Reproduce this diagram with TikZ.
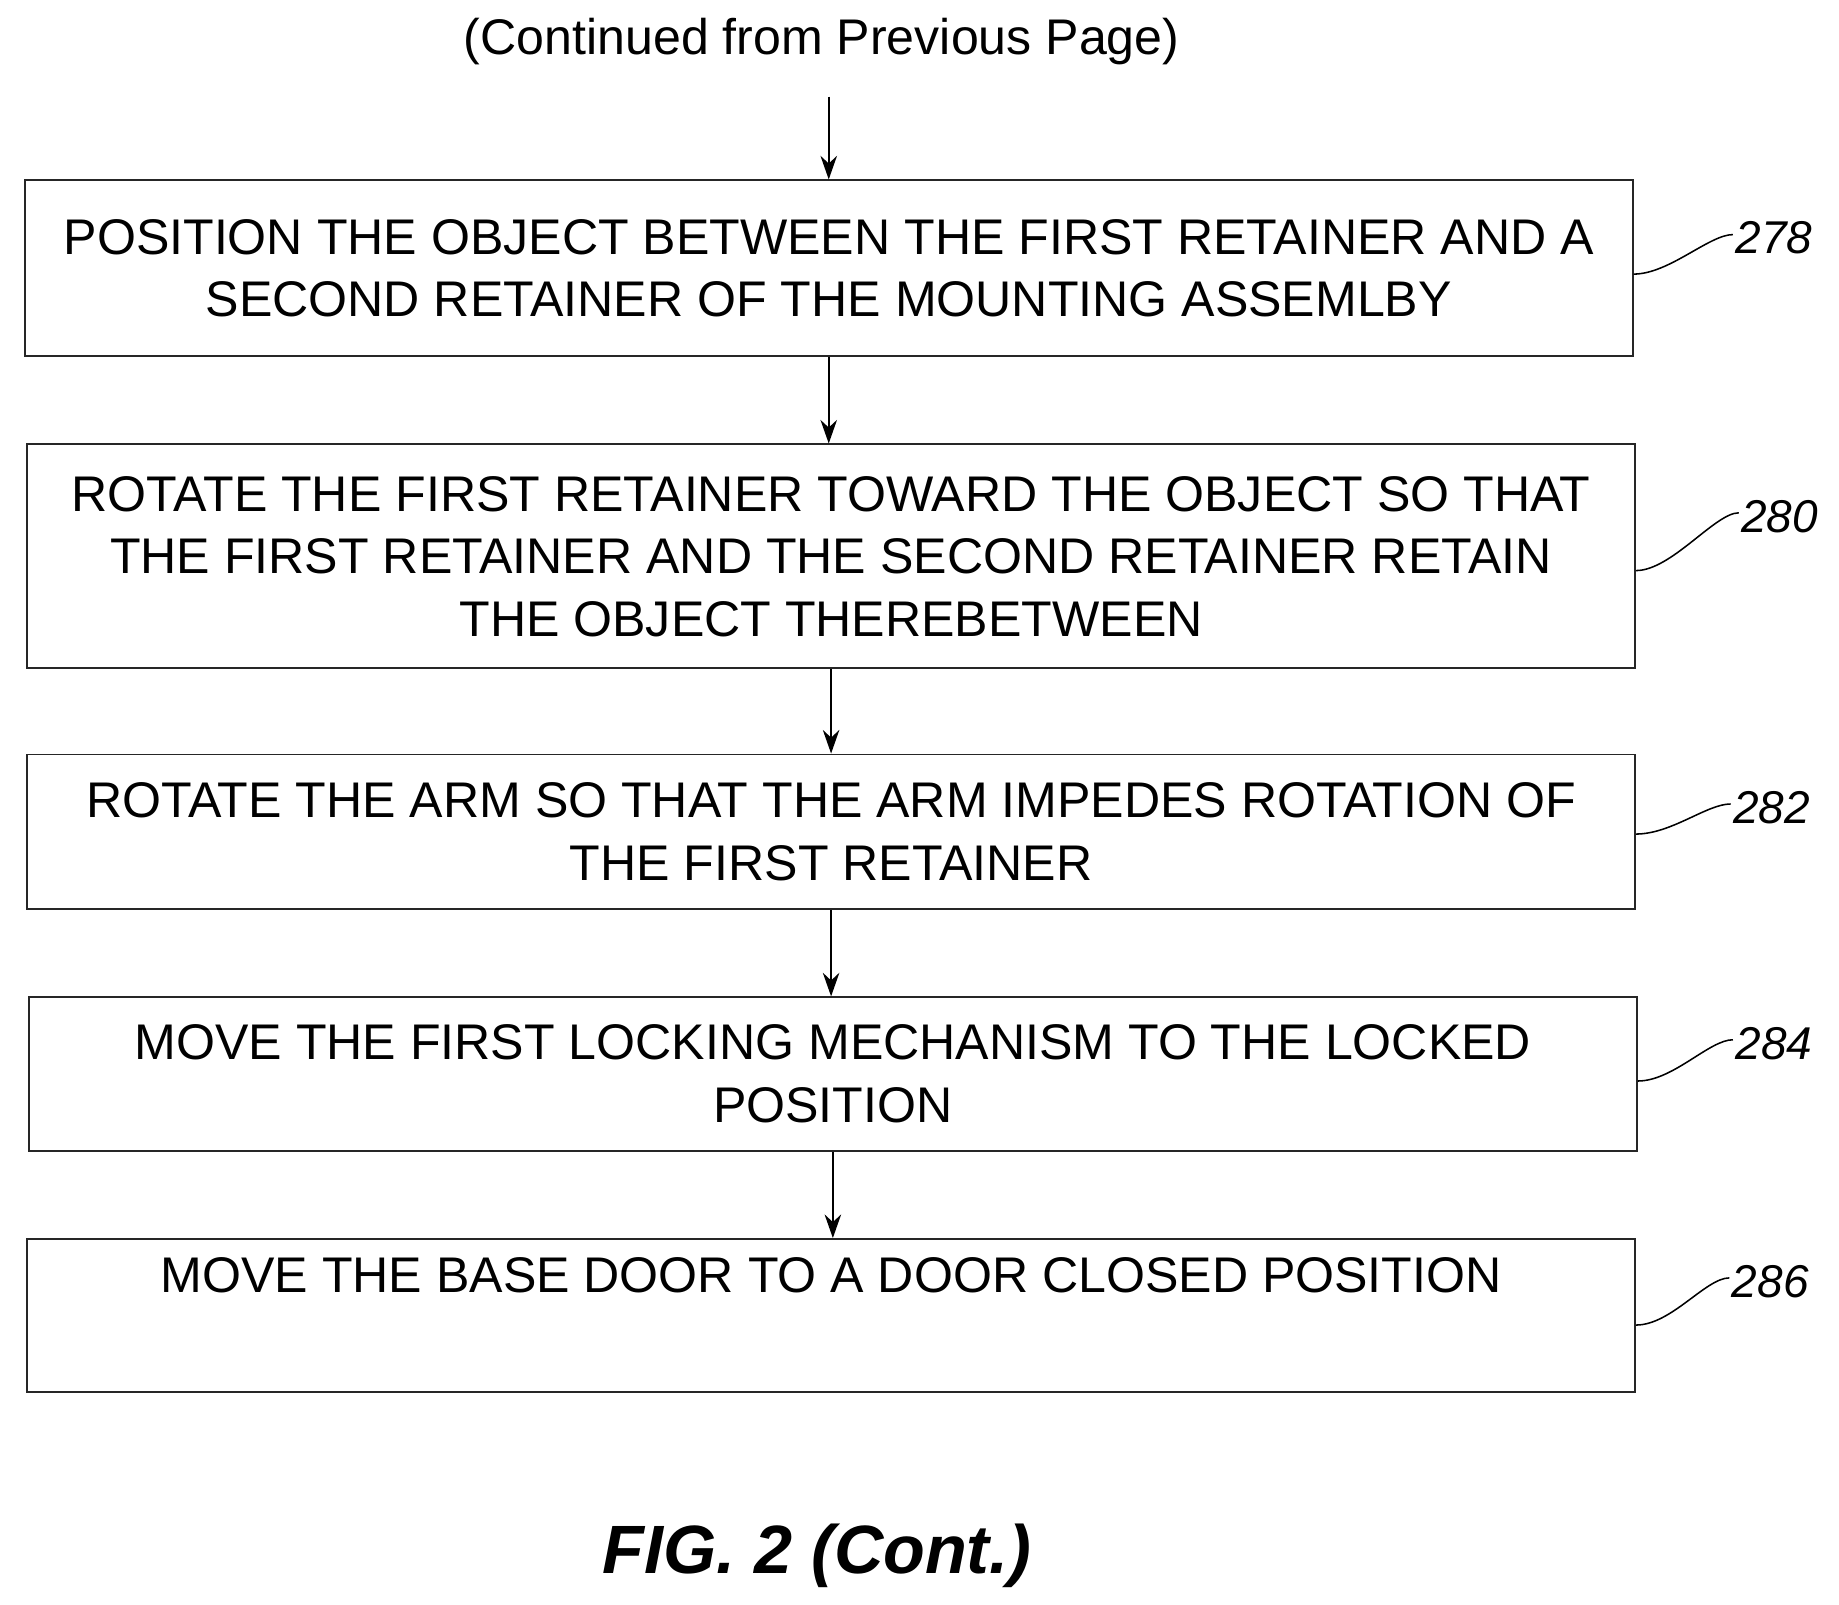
\documentclass[tikz,border=0pt]{standalone}
\usepackage{fontspec}
\setmainfont{Liberation Sans}
\usetikzlibrary{arrows.meta}
\begin{document}
\begin{tikzpicture}[x=1pt,y=-1pt,
  box/.style={draw=black!85,line width=1.6pt,minimum width=1364pt,inner sep=0pt,align=center,font=\fontsize{42.5}{53}\selectfont},
  arr/.style={-{Stealth[length=20pt,width=14pt]},line width=1.6pt},
  lab/.style={font=\fontsize{39}{44}\itshape\selectfont,anchor=west,inner sep=2pt},
  lead/.style={line width=1.3pt}]
\useasboundingbox (0,0) rectangle (1560,1361);
\node (top) at (697,35) {\fontsize{42.5}{48}\selectfont (Continued from Previous Page)};
\coordinate (s) at (703,82);
\node[box,minimum height=149pt] (b1) at (703,227.5) {POSITION THE OBJECT BETWEEN THE FIRST RETAINER AND A\\SECOND RETAINER OF THE MOUNTING ASSEMLBY};
\node[box,minimum height=190pt] (b2) at (705,472) {ROTATE THE FIRST RETAINER TOWARD THE OBJECT SO THAT\\THE FIRST RETAINER AND THE SECOND RETAINER RETAIN\\THE OBJECT THEREBETWEEN};
\node[box,minimum height=131pt] (b3) at (705,705.5) {ROTATE THE ARM SO THAT THE ARM IMPEDES ROTATION OF\\THE FIRST RETAINER};
\node[box,minimum height=130pt] (b4) at (706.5,911) {MOVE THE FIRST LOCKING MECHANISM TO THE LOCKED\\POSITION};
\node[box,minimum height=130pt] (b5) at (705,1116) {MOVE THE BASE DOOR TO A DOOR CLOSED POSITION\\\strut};
\draw[arr] (s) -- (b1.north -| s);
\draw[arr] (b1.south) -- (b1.south |- b2.north);
\draw[arr] (b2.south) -- (b3.north);
\draw[arr] (b3.south) -- (b3.south |- b4.north);
\draw[arr] (b4.south) -- (b4.south |- b5.north);
\node[lab] (l1) at (1470,202) {278};
\node[lab] (l2) at (1475,438) {280};
\node[lab] (l3) at (1468,685) {282};
\node[lab] (l4) at (1470,885) {284};
\node[lab] (l5) at (1467,1087) {286};
\foreach \b/\l/\dy in {b1/l1/-5,b2/l2/-12,b3/l3/-2,b4/l4/-6,b5/l5/-8}{
  \draw[lead] ([yshift=\dy pt]\b.east) .. controls +(30,0) and +(-20,0) .. ([yshift=3pt]\l.west);
}
\node (fig) at (693,1320) {\fontsize{58}{64}\bfseries\itshape\selectfont FIG. 2 (Cont.)};
\end{tikzpicture}
\end{document}
